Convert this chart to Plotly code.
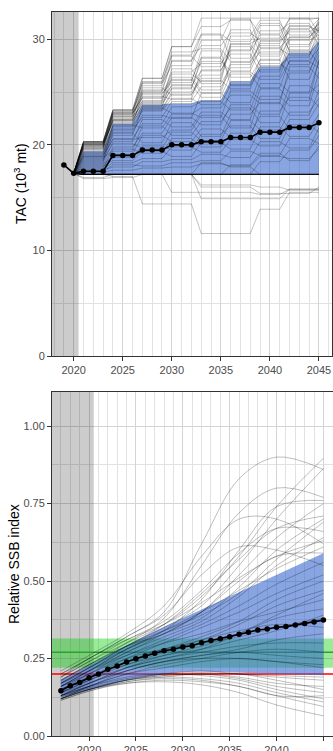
import plotly.graph_objects as go

# ---------------- Top panel: TAC (10^3 mt) ----------------
tac_years = list(range(2019, 2046))
tac_median = [18.1, 17.3, 17.5, 17.5, 17.5, 19.0, 19.0, 19.0, 19.5, 19.5, 19.5,
              20.0, 20.0, 20.0, 20.3, 20.3, 20.3, 20.7, 20.7, 20.7, 21.2, 21.2,
              21.2, 21.65, 21.65, 21.65, 22.1]

band_years_tac = list(range(2020, 2046))
tac_band_lo = [17.3, 17.2, 17.2, 17.2, 17.2, 17.2, 17.2, 17.2, 17.2, 17.2, 17.2,
               17.2, 17.2, 17.2, 17.2, 17.2, 17.2, 17.2, 17.2, 17.2, 17.2, 17.2,
               17.2, 17.2, 17.2, 17.2]
tac_band_hi = [17.3, 19.4, 19.4, 19.4, 22.0, 22.0, 22.0, 23.8, 23.8, 23.8, 23.9,
               23.9, 23.9, 24.2, 24.2, 24.2, 26.0, 26.0, 26.0, 27.4, 27.4, 27.4,
               28.7, 28.7, 28.7, 29.8]

tac_start_year = 2020
tac_start_value = 17.3
# TAC is set for blocks of years
tac_blocks = [[2021, 2022, 2023], [2024, 2025, 2026], [2027, 2028, 2029],
              [2030, 2031, 2032], [2033, 2034, 2035], [2036, 2037, 2038],
              [2039, 2040, 2041], [2042, 2043, 2044], [2045]]

# simulated TAC per block (one row per simulation)
tac_sims = [
    [20.3, 23.3, 26.3, 29.3, 32.0, 32.0, 32.0, 32.0, 32.0],
    [20.3, 23.3, 26.3, 29.3, 31.2, 31.8, 30.5, 31.9, 32.0],
    [20.1, 23.1, 26.0, 28.5, 30.5, 29.8, 31.5, 30.4, 31.6],
    [20.2, 23.2, 25.8, 27.5, 29.9, 31.9, 29.2, 30.2, 31.2],
    [19.9, 22.9, 25.6, 28.4, 27.4, 30.3, 31.8, 29.5, 30.9],
    [20.0, 22.8, 25.0, 27.9, 30.4, 28.2, 30.8, 31.5, 29.9],
    [19.8, 22.7, 24.8, 26.1, 28.3, 30.9, 28.6, 31.0, 31.9],
    [20.3, 23.0, 24.5, 26.9, 27.7, 29.0, 31.3, 28.8, 30.2],
    [19.7, 22.5, 25.4, 24.7, 26.6, 29.6, 30.1, 32.0, 30.6],
    [20.1, 22.3, 24.2, 27.2, 25.8, 27.3, 29.8, 30.7, 31.4],
    [19.6, 22.6, 23.9, 25.3, 28.2, 26.4, 28.0, 30.2, 31.0],
    [20.2, 22.1, 24.6, 24.3, 27.1, 28.6, 26.9, 29.3, 32.0],
    [19.9, 22.4, 23.6, 26.4, 25.2, 27.8, 29.4, 27.6, 29.7],
    [19.5, 21.8, 24.9, 25.9, 28.9, 25.6, 27.1, 29.9, 30.4],
    [20.0, 22.2, 23.4, 25.0, 26.3, 29.3, 27.5, 28.3, 31.1],
    [20.3, 23.3, 25.2, 28.0, 29.4, 30.6, 29.9, 31.2, 30.8],
    [20.2, 23.1, 24.4, 25.6, 27.0, 28.9, 30.4, 29.0, 31.5],
    [20.0, 22.9, 25.9, 28.8, 29.1, 27.9, 29.6, 30.9, 29.4],
    [19.8, 23.0, 24.1, 26.7, 26.0, 29.5, 28.4, 30.0, 31.7],
    [20.1, 22.7, 23.7, 25.4, 27.9, 27.0, 29.1, 28.5, 30.0],
    [19.7, 22.4, 25.1, 26.2, 24.9, 27.6, 28.8, 31.3, 30.3],
    [19.3, 21.5, 23.2, 24.4, 23.8, 25.7, 28.1, 26.2, 28.5],
    [19.1, 21.2, 22.8, 22.5, 24.9, 24.0, 26.5, 28.9, 27.6],
    [18.9, 20.9, 23.5, 23.0, 22.6, 25.1, 24.3, 26.8, 29.3],
    [18.7, 20.6, 22.0, 23.6, 24.1, 23.3, 25.8, 25.0, 27.9],
    [18.5, 21.9, 21.6, 22.9, 23.5, 24.7, 23.9, 27.4, 26.3],
    [18.3, 20.3, 22.4, 21.7, 23.1, 22.4, 25.3, 24.2, 28.1],
    [18.1, 19.8, 21.1, 22.6, 21.9, 23.8, 22.9, 25.6, 24.8],
    [19.0, 20.5, 20.7, 21.4, 22.8, 21.6, 24.6, 23.7, 26.9],
    [18.8, 19.4, 21.8, 20.9, 22.2, 23.5, 22.1, 24.9, 25.7],
    [18.4, 21.1, 20.2, 22.1, 20.8, 22.9, 24.0, 22.8, 25.2],
    [17.9, 19.1, 20.9, 20.3, 21.5, 20.7, 23.2, 24.5, 23.6],
    [18.6, 20.1, 19.7, 21.2, 20.4, 22.3, 21.4, 23.1, 24.4],
    [18.2, 18.8, 19.9, 19.5, 21.0, 21.8, 20.6, 22.4, 23.9],
    [17.8, 19.6, 19.2, 20.6, 19.8, 21.1, 22.7, 21.5, 22.9],
    [18.0, 18.5, 19.4, 18.9, 20.2, 19.6, 21.7, 20.8, 22.3],
    [17.7, 18.3, 18.7, 19.8, 19.3, 20.5, 19.9, 21.9, 21.2],
    [17.6, 17.9, 18.4, 18.6, 19.1, 18.8, 20.3, 19.7, 21.6],
    [17.5, 18.1, 18.0, 18.3, 18.5, 19.4, 19.0, 20.6, 20.1],
    [17.4, 17.6, 17.8, 17.9, 18.2, 18.0, 18.9, 18.7, 19.6],
    [19.4, 22.0, 23.8, 23.9, 24.2, 26.0, 27.4, 28.7, 29.8],
    [19.6, 22.3, 24.0, 25.7, 24.5, 26.7, 25.4, 28.0, 29.1],
    [19.2, 21.7, 23.3, 24.8, 26.1, 25.3, 27.7, 27.0, 28.8],
    [18.9, 21.4, 22.6, 24.1, 25.5, 26.9, 26.2, 27.9, 27.3],
    [17.2, 17.2, 17.2, 17.2, 17.2, 17.2, 17.2, 17.2, 17.2],
    [17.2, 17.2, 17.2, 17.2, 17.2, 17.2, 17.2, 17.2, 17.2],
    [17.2, 17.2, 17.2, 17.2, 17.2, 17.2, 17.2, 17.2, 17.2],
    [17.2, 17.2, 17.2, 17.2, 17.2, 17.2, 17.2, 17.2, 17.2],
    [17.2, 17.2, 17.2, 17.2, 17.2, 17.2, 17.2, 17.2, 17.2],
    [17.2, 17.2, 17.2, 17.2, 17.2, 17.2, 17.2, 17.2, 17.2],
    [17.2, 17.2, 17.2, 17.2, 17.2, 17.2, 17.2, 17.2, 17.2],
    [17.2, 17.2, 17.2, 17.2, 17.2, 17.2, 17.2, 17.2, 17.2],
    [17.2, 17.2, 17.2, 17.2, 17.2, 17.2, 18.4, 19.5, 20.9],
    [17.2, 17.2, 17.2, 17.2, 17.2, 18.1, 19.2, 18.5, 19.9],
    [17.2, 17.2, 17.2, 17.2, 18.3, 17.9, 17.2, 17.2, 17.2],
    [16.9, 17.2, 17.2, 17.2, 17.2, 17.2, 17.2, 17.2, 17.2],
    [16.8, 16.9, 17.2, 17.2, 16.2, 16.2, 16.0, 15.7, 15.7],
    [17.2, 17.0, 14.4, 14.4, 11.6, 11.6, 13.9, 15.5, 15.5],
    [17.2, 17.2, 17.2, 15.5, 15.5, 15.5, 15.3, 15.8, 15.8],
    [17.2, 17.2, 17.2, 17.2, 14.9, 14.9, 14.9, 15.8, 15.8],
    [17.2, 17.2, 17.2, 17.2, 16.0, 16.0, 15.4, 15.4, 16.0],
]

# ---------------- Bottom panel: relative SSB ----------------
ssb_years = list(range(2017, 2046))
ssb_median = [0.146, 0.162, 0.173, 0.188, 0.200, 0.215, 0.226, 0.239, 0.249,
              0.258, 0.267, 0.275, 0.280, 0.287, 0.291, 0.301, 0.308, 0.314,
              0.320, 0.328, 0.335, 0.342, 0.345, 0.351, 0.353, 0.358, 0.363,
              0.368, 0.374]
ssb_band_hi = [0.180, 0.196, 0.211, 0.226, 0.243, 0.260, 0.277, 0.293, 0.308,
               0.323, 0.338, 0.352, 0.366, 0.380, 0.394, 0.408, 0.422, 0.436,
               0.450, 0.464, 0.478, 0.492, 0.506, 0.520, 0.534, 0.548, 0.562,
               0.576, 0.590]
ssb_band_lo = [0.125, 0.133, 0.141, 0.150, 0.158, 0.166, 0.173, 0.180, 0.186,
               0.191, 0.196, 0.200, 0.204, 0.207, 0.208, 0.208, 0.207, 0.206,
               0.205, 0.204, 0.203, 0.202, 0.201, 0.200, 0.199, 0.198, 0.197,
               0.197, 0.196]

ssb_knot_years = [2017, 2020, 2024, 2028, 2032, 2036, 2040, 2045]
ssb_sims = [
    [0.20, 0.25, 0.32, 0.40, 0.62, 0.83, 0.90, 0.86],
    [0.19, 0.24, 0.30, 0.36, 0.45, 0.58, 0.74, 0.896],
    [0.18, 0.23, 0.30, 0.38, 0.55, 0.72, 0.80, 0.77],
    [0.17, 0.22, 0.29, 0.35, 0.42, 0.55, 0.70, 0.863],
    [0.16, 0.21, 0.28, 0.34, 0.44, 0.60, 0.74, 0.76],
    [0.18, 0.23, 0.29, 0.33, 0.40, 0.52, 0.64, 0.75],
    [0.21, 0.26, 0.33, 0.42, 0.58, 0.70, 0.70, 0.62],
    [0.17, 0.22, 0.28, 0.33, 0.38, 0.48, 0.60, 0.70],
    [0.19, 0.24, 0.31, 0.37, 0.47, 0.59, 0.67, 0.66],
    [0.15, 0.20, 0.27, 0.32, 0.37, 0.45, 0.55, 0.64],
    [0.20, 0.25, 0.32, 0.39, 0.52, 0.61, 0.60, 0.55],
    [0.16, 0.21, 0.28, 0.34, 0.40, 0.47, 0.54, 0.61],
    [0.18, 0.23, 0.29, 0.34, 0.39, 0.46, 0.57, 0.69],
    [0.17, 0.22, 0.29, 0.36, 0.46, 0.57, 0.67, 0.71],
    [0.19, 0.25, 0.31, 0.36, 0.43, 0.51, 0.58, 0.63],
    [0.16, 0.21, 0.27, 0.33, 0.40, 0.50, 0.58, 0.59],
    [0.15, 0.19, 0.25, 0.30, 0.35, 0.40, 0.46, 0.52],
    [0.14, 0.18, 0.24, 0.28, 0.31, 0.36, 0.42, 0.47],
    [0.17, 0.21, 0.26, 0.30, 0.33, 0.37, 0.40, 0.44],
    [0.13, 0.17, 0.22, 0.26, 0.29, 0.33, 0.38, 0.41],
    [0.16, 0.20, 0.25, 0.28, 0.30, 0.32, 0.35, 0.38],
    [0.14, 0.18, 0.23, 0.27, 0.31, 0.34, 0.36, 0.35],
    [0.15, 0.19, 0.24, 0.28, 0.32, 0.37, 0.44, 0.50],
    [0.13, 0.17, 0.21, 0.24, 0.26, 0.28, 0.31, 0.33],
    [0.14, 0.18, 0.22, 0.25, 0.27, 0.29, 0.30, 0.30],
    [0.12, 0.16, 0.20, 0.23, 0.25, 0.27, 0.28, 0.27],
    [0.15, 0.19, 0.23, 0.26, 0.28, 0.31, 0.34, 0.39],
    [0.13, 0.16, 0.21, 0.24, 0.26, 0.27, 0.26, 0.25],
    [0.16, 0.20, 0.26, 0.31, 0.36, 0.42, 0.49, 0.56],
    [0.14, 0.17, 0.22, 0.25, 0.28, 0.33, 0.39, 0.46],
    [0.12, 0.16, 0.20, 0.22, 0.24, 0.25, 0.24, 0.23],
    [0.13, 0.17, 0.21, 0.24, 0.25, 0.25, 0.24, 0.22],
    [0.12, 0.15, 0.18, 0.20, 0.21, 0.20, 0.19, 0.18],
    [0.115, 0.145, 0.175, 0.19, 0.20, 0.19, 0.17, 0.16],
    [0.12, 0.15, 0.18, 0.195, 0.20, 0.185, 0.16, 0.14],
    [0.13, 0.16, 0.19, 0.20, 0.195, 0.18, 0.15, 0.12],
    [0.12, 0.15, 0.175, 0.185, 0.18, 0.16, 0.13, 0.095],
    [0.125, 0.155, 0.18, 0.19, 0.185, 0.17, 0.14, 0.11],
    [0.12, 0.15, 0.17, 0.175, 0.165, 0.14, 0.10, 0.065],
    [0.13, 0.16, 0.185, 0.20, 0.205, 0.20, 0.195, 0.19],
    [0.12, 0.15, 0.18, 0.195, 0.20, 0.20, 0.18, 0.15],
    [0.115, 0.145, 0.17, 0.18, 0.175, 0.16, 0.13, 0.13],
]

ssb_limit = 0.2
ssb_target = 0.27
ssb_target_range = [0.22, 0.315]
history_end = 2020.5

# ---------------- styling / layout constants ----------------
W, H = 333, 751
ML, MR, MT, MB = 52, 0, 12, 15
top_xrange = [2017.79, 2046.33]
top_yrange = [0, 32.58]
bot_xrange = [2016.05, 2046.02]
bot_yrange = [0, 1.11]

SIM_LINE = dict(color="rgba(0,0,0,0.3)", width=0.8)
BAND_FILL = "rgba(50,100,205,0.58)"
SHADE = "rgba(0,0,0,0.2)"
FONT = "Liberation Sans, Arial, sans-serif"

fig = go.Figure()


def add_rect(x0, x1, y0, y1, color, xa, ya):
    fig.add_trace(go.Scatter(x=[x0, x1, x1, x0, x0], y=[y0, y0, y1, y1, y0],
                             mode="lines", line=dict(width=0), fill="toself",
                             fillcolor=color, xaxis=xa, yaxis=ya,
                             hoverinfo="skip", showlegend=False))


def add_hline(x0, x1, y, color, width, xa, ya):
    fig.add_trace(go.Scatter(x=[x0, x1], y=[y, y], mode="lines",
                             line=dict(color=color, width=width),
                             xaxis=xa, yaxis=ya, hoverinfo="skip",
                             showlegend=False))


# ----- top panel -----
add_rect(top_xrange[0], history_end, top_yrange[0], top_yrange[1], SHADE, "x", "y")

fig.add_trace(go.Scatter(x=band_years_tac, y=tac_band_lo, mode="lines",
                         line=dict(width=0), xaxis="x", yaxis="y",
                         showlegend=False, hoverinfo="skip"))
fig.add_trace(go.Scatter(x=band_years_tac, y=tac_band_hi, mode="lines",
                         line=dict(width=0), fill="tonexty", fillcolor=BAND_FILL,
                         xaxis="x", yaxis="y", showlegend=False, hoverinfo="skip"))

for sim in tac_sims:
    xs = [tac_start_year]
    ys = [tac_start_value]
    for level, yrs in zip(sim, tac_blocks):
        for yr in yrs:
            xs.append(yr)
            ys.append(level)
    fig.add_trace(go.Scatter(x=xs, y=ys, mode="lines", line=SIM_LINE,
                             xaxis="x", yaxis="y", hoverinfo="skip",
                             showlegend=False))

fig.add_trace(go.Scatter(x=tac_years, y=tac_median, mode="lines+markers",
                         line=dict(color="black", width=1.6),
                         marker=dict(color="black", size=5.5),
                         xaxis="x", yaxis="y", showlegend=False))

# ----- bottom panel -----
add_rect(bot_xrange[0], history_end, bot_yrange[0], bot_yrange[1], SHADE, "x2", "y2")
add_rect(bot_xrange[0], bot_xrange[1], ssb_target_range[0], ssb_target_range[1],
         "rgba(0,205,0,0.4)", "x2", "y2")
add_hline(bot_xrange[0], bot_xrange[1], ssb_target, "rgb(40,165,40)", 1.5, "x2", "y2")
add_hline(bot_xrange[0], bot_xrange[1], ssb_limit, "rgb(255,0,0)", 1.6, "x2", "y2")

fig.add_trace(go.Scatter(x=ssb_years, y=ssb_band_lo, mode="lines",
                         line=dict(width=0), xaxis="x2", yaxis="y2",
                         showlegend=False, hoverinfo="skip"))
fig.add_trace(go.Scatter(x=ssb_years, y=ssb_band_hi, mode="lines",
                         line=dict(width=0), fill="tonexty", fillcolor=BAND_FILL,
                         xaxis="x2", yaxis="y2", showlegend=False, hoverinfo="skip"))

for sim in ssb_sims:
    fig.add_trace(go.Scatter(x=ssb_knot_years, y=sim, mode="lines",
                             line=dict(color="rgba(0,0,0,0.32)", width=0.8,
                                       shape="spline", smoothing=1.0),
                             xaxis="x2", yaxis="y2", hoverinfo="skip",
                             showlegend=False))

fig.add_trace(go.Scatter(x=ssb_years, y=ssb_median, mode="lines+markers",
                         line=dict(color="black", width=1.6),
                         marker=dict(color="black", size=5.5),
                         xaxis="x2", yaxis="y2", showlegend=False))

plot_h = H - MT - MB
top_dom = [(H - MB - 356) / plot_h, 1.0]
bot_dom = [0.0, (H - MB - 392) / plot_h]

axis_common = dict(
    showline=True, linecolor="#333333", linewidth=1,
    ticks="outside", ticklen=4, tickwidth=1, tickcolor="#333333",
    tickfont=dict(family=FONT, size=11, color="#4D4D4D"),
    showgrid=True, gridcolor="#D4D4D4", gridwidth=0.6,
    zeroline=False, automargin=False,
)

fig.update_layout(
    template="none",
    width=W, height=H,
    margin=dict(l=ML, r=MR, t=MT, b=MB, autoexpand=False),
    paper_bgcolor="white", plot_bgcolor="white",
    showlegend=False,
    xaxis=dict(axis_common, domain=[0, 280 / 281], range=top_xrange,
               anchor="y", tickmode="linear", tick0=2020, dtick=5, mirror=True,
               minor=dict(dtick=1, tick0=2020, showgrid=True,
                          gridcolor="#E2E2E2", gridwidth=0.6, ticks="")),
    yaxis=dict(axis_common, domain=top_dom, range=top_yrange, anchor="x",
               tickmode="linear", tick0=0, dtick=10, mirror=True,
               minor=dict(dtick=5, tick0=0, showgrid=True,
                          gridcolor="#E2E2E2", gridwidth=0.6, ticks="")),
    xaxis2=dict(axis_common, domain=[0, 1], range=bot_xrange, anchor="y2",
                tickmode="linear", tick0=2020, dtick=5, mirror=True,
                minor=dict(dtick=1, tick0=2020, showgrid=True,
                           gridcolor="#E2E2E2", gridwidth=0.6, ticks="")),
    yaxis2=dict(axis_common, domain=bot_dom, range=bot_yrange, anchor="x2",
                tickmode="linear", tick0=0, dtick=0.25, tickformat=".2f",
                minor=dict(dtick=0.125, tick0=0, showgrid=True,
                           gridcolor="#E2E2E2", gridwidth=0.6, ticks="")),
    annotations=[
        dict(text="TAC (10<sup>3</sup> mt)", xref="paper", yref="paper",
             x=(20 - ML) / (W - ML), y=(H - MB - 184) / plot_h,
             textangle=-90, showarrow=False, xanchor="center", yanchor="middle",
             font=dict(family=FONT, size=14, color="black")),
        dict(text="Relative SSB index", xref="paper", yref="paper",
             x=(14 - ML) / (W - ML), y=(H - MB - 564) / plot_h,
             textangle=-90, showarrow=False, xanchor="center", yanchor="middle",
             font=dict(family=FONT, size=14, color="black")),
    ],
)

fig.write_html("out.html")
